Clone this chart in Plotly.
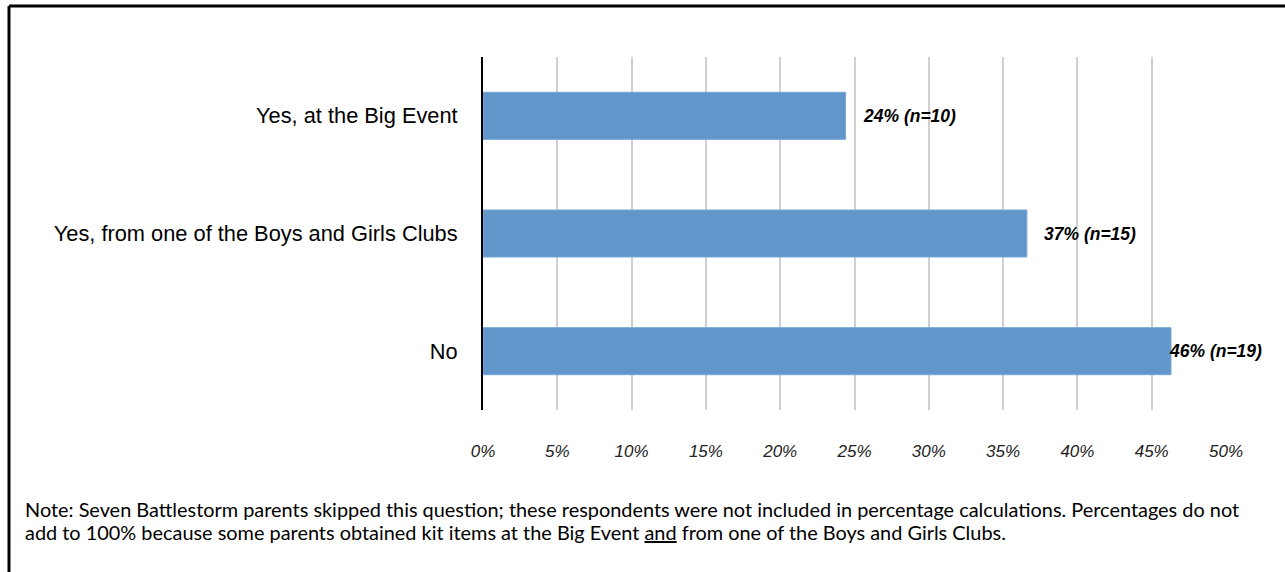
import plotly.graph_objects as go

categories = ["No", "Yes, from one of the Boys and Girls Clubs", "Yes, at the Big Event"]
values = [46.3, 36.6, 24.4]
counts = [19, 15, 10]
tick_vals = [0, 5, 10, 15, 20, 25, 30, 35, 40, 45, 50]
tick_text = [f"{v}%" for v in tick_vals]
label_shift = [-4, 15, 15]
note_lines = [
    "Note: Seven Battlestorm parents skipped this question; these respondents were not included in percentage calculations. Percentages do not",
    "add to 100% because some parents obtained kit items at the Big Event <u>and</u> from one of the Boys and Girls Clubs.",
]

W, H = 1285, 572
L, R, T, B = 483, 59, 57, 162
pw, ph = W - L - R, H - T - B
SANS = "Liberation Sans, Arial"

fig = go.Figure()
fig.add_trace(go.Bar(
    y=categories, x=values, orientation="h",
    marker=dict(color="#6196CB", line=dict(color="#7AA8D6", width=1)),
    width=0.4, hoverinfo="skip",
))

for c, v, n, s in zip(categories, values, counts, label_shift):
    fig.add_annotation(
        x=v, y=c, xref="x", yref="y", text=f"<b><i>{round(v)}% (n={n})</i></b>",
        showarrow=False, xanchor="left", xshift=s,
        font=dict(family=SANS, size=17.5, color="black"),
    )

for i, line in enumerate(note_lines):
    fig.add_annotation(
        x=(23 - L) / pw, y=(H - B - (509 + 23 * i)) / ph, xref="paper", yref="paper",
        text=line, showarrow=False, xanchor="left", yanchor="middle", align="left",
        font=dict(family="Lato, Open Sans, sans-serif", size=19.9, color="black"),
    )

# outer frame (left and top edges)
fig.add_shape(type="line", xref="paper", yref="paper",
              x0=(9 - L) / pw, x1=(W + 5 - L) / pw, y0=(H - B - 6) / ph, y1=(H - B - 6) / ph,
              line=dict(color="black", width=3))
fig.add_shape(type="line", xref="paper", yref="paper",
              x0=(9 - L) / pw, x1=(9 - L) / pw, y0=(H - B - 6) / ph, y1=(H - B - H - 5) / ph,
              line=dict(color="black", width=3))

fig.update_layout(
    width=W, height=H,
    margin=dict(l=L, r=R, t=T, b=B, pad=0),
    plot_bgcolor="white", paper_bgcolor="white",
    showlegend=False, bargap=0.6,
    xaxis=dict(range=[0, 50], tickvals=tick_vals, ticktext=tick_text,
               showgrid=True, gridcolor="#D0D0D0", gridwidth=2,
               zeroline=False, showline=False, ticks="",
               ticklabelstandoff=29,
               tickfont=dict(family=SANS, size=17, color="#222", style="italic")),
    yaxis=dict(categoryorder="array", categoryarray=categories,
               range=[-0.5, 2.5], showgrid=False, zeroline=False,
               showline=True, linecolor="black", linewidth=2, ticks="",
               ticklabelstandoff=19,
               tickfont=dict(family=SANS, size=21.8, color="black")),
)

fig.write_html("out.html")
